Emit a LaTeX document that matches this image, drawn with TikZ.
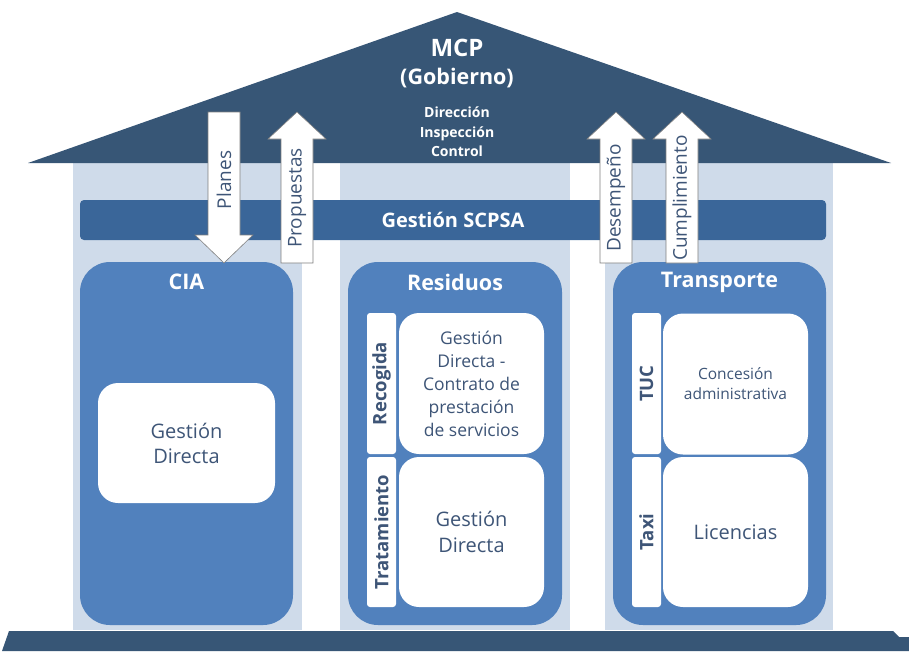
\documentclass[tikz,border=0pt]{standalone}
\usepackage{fontspec}
\setmainfont{Open Sans}
\usetikzlibrary{calc}
\definecolor{roofblue}{HTML}{375676}
\definecolor{pillarblue}{HTML}{CFDBEA}
\definecolor{barblue}{HTML}{3A6699}
\definecolor{panelblue}{HTML}{5181BD}
\definecolor{textblue}{HTML}{3E5577}
\definecolor{arrowline}{HTML}{7F7F7F}
\tikzset{
  pillar/.style={fill=pillarblue, draw=none},
  panel/.style={fill=panelblue, draw=none, rounded corners=30pt},
  innerbox/.style={fill=white, draw=none, rounded corners=20pt, text=textblue, align=center, inner sep=0pt},
  sidebox/.style={fill=white, draw=none, rounded corners=3pt, text=textblue, inner sep=0pt,
    font=\fontsize{18.5}{18.5}\selectfont\bfseries},
  arrowbox/.style={fill=white, draw=arrowline, line width=0.6pt},
  arrowtext/.style={text=textblue, rotate=90, font=\fontsize{19}{19}\selectfont},
  title/.style={text=white, font=\fontsize{21.5}{24}\selectfont\bfseries}
}
\def\arrowup(#1){\draw[arrowbox] (#1-16,263) -- (#1-16,139) -- (#1-29,139) -- (#1,112) -- (#1+29,139) -- (#1+16,139) -- (#1+16,263) -- cycle;}
\def\arrowdown(#1){\draw[arrowbox] (#1-16,112) -- (#1-16,235) -- (#1-29,235) -- (#1,263) -- (#1+29,235) -- (#1+16,235) -- (#1+16,112) -- cycle;}

\begin{document}
\begin{tikzpicture}[x=1pt, y=-1pt]
			%%%%% START %%%%%
			\useasboundingbox (0,0) rectangle (909,651);
			
			\draw[pillar] (73,163) rectangle (302,630);
			\draw[pillar] (340,163) rectangle (570,630);
			\draw[pillar] (605,163) rectangle (833,630);
			
			\draw[fill=roofblue, draw=none] (28,163) -- (457,12) -- (891,163) -- cycle;
			\node[text=white, font=\fontsize{24}{26}\selectfont\bfseries] (mcp) at (457,48) {MCP};
			\node[text=white, font=\fontsize{21.5}{24}\selectfont\bfseries] (gob) at (457,78) {(Gobierno)};
			\node[text=white, align=center, font=\fontsize{14}{19.5}\selectfont\bfseries] (roles) at (457,132) {Dirección\\Inspección\\Control};
			
			\draw[fill=barblue, draw=none, rounded corners=4pt] (80,200) rectangle (826,240);
			\node[text=white, font=\fontsize{20}{22}\selectfont\bfseries] (scpsa) at (453,220) {Gestión SCPSA};
			
			% CIA
			\node[panel, minimum width=213pt, minimum height=363pt] (cia) at (186.5,443.5) {};
			\node[title] (ciat) at (186.5,282) {CIA};
			\node[innerbox, minimum width=177pt, minimum height=120pt, font=\fontsize{20}{25}\selectfont] (ciad) at (186.5,443) {Gestión\\Directa};
			
			% Residuos
			\node[panel, minimum width=214pt, minimum height=363pt] (res) at (455,443.5) {};
			\node[title] (rest) at (455,282) {Residuos};
			\node[sidebox, minimum width=29pt, minimum height=141pt] (recl) at (381.5,383.5) {};
			\node[sidebox, rotate=90] at (recl) {Recogida};
			\node[sidebox, minimum width=29pt, minimum height=150pt] (tral) at (381.5,532) {};
			\node[sidebox, rotate=90] at (tral) {Tratamiento};
			\node[innerbox, minimum width=145pt, minimum height=141pt, font=\fontsize{17.5}{23}\selectfont] (recd) at (471.5,383.5) {Gestión\\Directa -\\Contrato de\\prestación\\de servicios};
			\node[innerbox, minimum width=145pt, minimum height=150pt, font=\fontsize{20}{26}\selectfont] (trad) at (471.5,532) {Gestión\\Directa};
			
			% Transporte
			\node[panel, minimum width=213pt, minimum height=363pt] (tra) at (719.5,443.5) {};
			\node[title] (trat) at (719.5,282) {Transporte};
			\node[sidebox, minimum width=29pt, minimum height=141pt] (tucl) at (646.5,383.5) {};
			\node[sidebox, rotate=90] at (tucl) {TUC};
			\node[sidebox, minimum width=29pt, minimum height=150pt] (taxl) at (646.5,532) {};
			\node[sidebox, rotate=90] at (taxl) {Taxi};
			\node[innerbox, minimum width=145pt, minimum height=141pt, font=\fontsize{15.5}{20}\selectfont] (tucd) at (735.5,384) {Concesión\\administrativa};
			\node[innerbox, minimum width=145pt, minimum height=150pt, font=\fontsize{20}{22}\selectfont] (taxd) at (735.5,532) {Licencias};
			
			% flechas
			\arrowdown(224)
			\node[arrowtext] (planes) at (224,180) {Planes};
			\arrowup(297)
			\node[arrowtext] (prop) at (297,198) {Propuestas};
			\arrowup(616)
			\node[arrowtext] (desem) at (616,198) {Desempeño};
			\arrowup(682)
			\node[arrowtext] (cumpl) at (682,198) {Cumplimiento};
			
			\draw[fill=roofblue, draw=none] (2,651) -- (9,631) -- (893,631) -- (899,637) -- (909,637) -- (909,651) -- cycle;
			%%%%% END %%%%%
\end{tikzpicture}
\end{document}
